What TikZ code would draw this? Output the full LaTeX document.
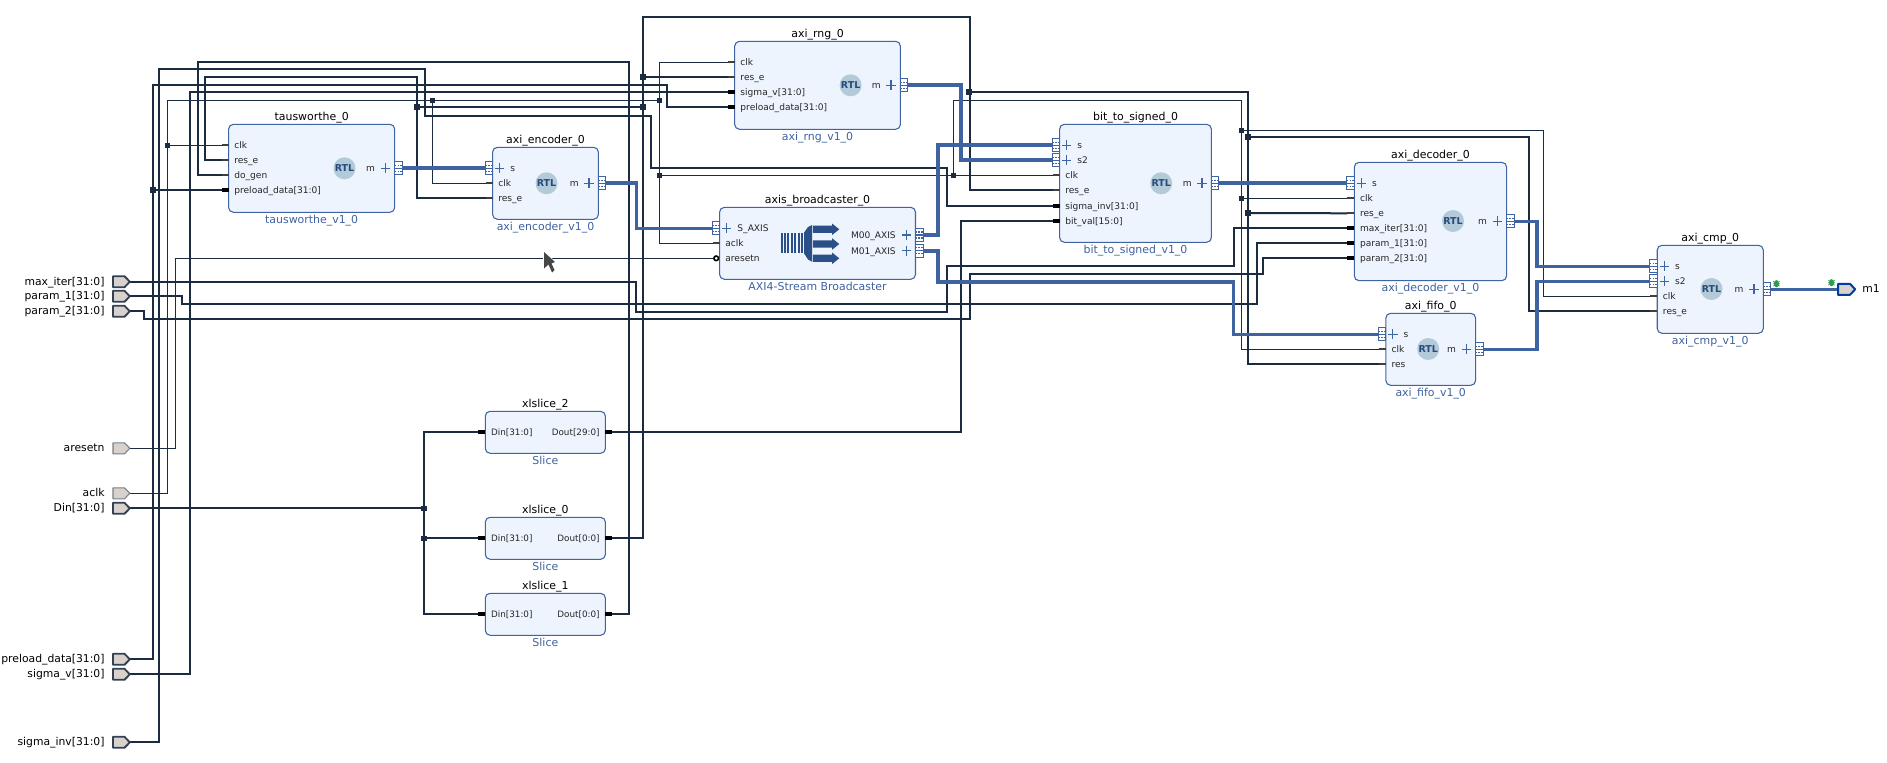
\documentclass[tikz,border=0pt]{standalone}
\usepackage{fontspec}
\setmainfont{DejaVu Sans}
\definecolor{wirec}{HTML}{1B2C40}
\definecolor{busblue}{HTML}{3F62A0}
\definecolor{boxfill}{HTML}{EDF4FD}
\definecolor{boxline}{HTML}{3F64A3}
\definecolor{portfill}{HTML}{D9D1CB}
\definecolor{rtlc}{HTML}{B3CAD8}
\definecolor{rtlt}{HTML}{274A7C}
\definecolor{iconc}{HTML}{2B4F87}
\definecolor{bugc}{HTML}{2E9A4E}
\pgfdeclarelayer{wires}
\pgfsetlayers{wires,main}
\tikzset{
  ipbox/.style={draw=boxline,fill=boxfill,line width=0.8pt,rounded corners=3.6pt,inner sep=0pt,outer sep=0pt},
  titlelab/.style={font=\fontsize{8.2}{10}\selectfont,text=black,inner sep=0pt,text height=6.2pt,text depth=1.8pt},
  sublab/.style={font=\fontsize{8.2}{10}\selectfont,text=busblue,inner sep=0pt,text height=6.2pt,text depth=1.8pt},
  pinlab/.style={font=\fontsize{6.8}{9}\selectfont,text=black!85,inner sep=0pt,text height=5.4pt,text depth=1.6pt},
  slicelab/.style={font=\fontsize{6.6}{9}\selectfont,text=black!85,inner sep=0pt,text height=5pt,text depth=1.5pt},
  extlab/.style={font=\fontsize{8.1}{10}\selectfont,text=black,inner sep=0pt,text height=6.2pt,text depth=1.8pt},
  thinw/.style={draw=wirec,line width=0.85pt},
  thickw/.style={draw=wirec,line width=1.5pt},
  busw/.style={draw=busblue,line width=2.7pt},
  junc/.style={rectangle,fill=wirec,inner sep=0pt,minimum size=4.5pt},
  juncs/.style={rectangle,fill=wirec,inner sep=0pt,minimum size=3.8pt},
  rtlicon/.style={circle,fill=rtlc,inner sep=0pt,minimum size=16.5pt,font=\fontsize{7.1}{8}\bfseries\selectfont,text=rtlt},
}
\newcommand\ipblock[7]{%
  \node[ipbox,minimum width={(#4-#2)*0.75pt},minimum height={(#5-#3)*0.75pt}] (#1) at ({(#2+#4)/2},{(#3+#5)/2}) {};
  \node[titlelab] (#1-title) at ({(#2+#4)/2},#3-7) {#6};
  \node[sublab] (#1-sub) at ({(#2+#4)/2},#5+8.2) {#7};
}
\newcommand\rtl[3]{\node[rtlicon] (#1) at (#2,#3) {RTL};}
\newcommand\thinpin[4]{%
  \coordinate (#1) at (#2-7,#3);
  \draw[line width=1.5pt,draw=black!75] (#1) -- (#2,#3);
  \node[pinlab,anchor=west] (#1-l) at (#2+5.5,#3+1) {#4};
}
\newcommand\buspin[4]{%
  \coordinate (#1) at (#2-7,#3);
  \draw[line width=3pt,draw=black] (#1) -- (#2,#3);
  \node[pinlab,anchor=west] (#1-l) at (#2+5.5,#3+1) {#4};
}
\newcommand\sliceout[4]{%
  \coordinate (#1) at (#2+7,#3);
  \draw[line width=3pt,draw=black] (#1) -- (#2,#3);
  \node[slicelab,anchor=east] (#1-l) at (#2-5.5,#3+1) {#4};
}
\newcommand\slicein[4]{%
  \coordinate (#1) at (#2-7,#3);
  \draw[line width=3pt,draw=black] (#1) -- (#2,#3);
  \node[slicelab,anchor=west] (#1-l) at (#2+5.5,#3+1) {#4};
}
\newcommand\ifsym[2]{%
  \draw[draw=boxline,fill=white,line width=0.7pt] (#1,#2-6.5) rectangle (#1+7.5,#2+6.5);
  \draw[draw=boxline,line width=0.8pt] (#1,#2) -- (#1+7.5,#2);
  \draw[draw=boxline,line width=0.8pt,dash pattern=on 1.2pt off 0.9pt] (#1,#2-3) -- (#1+7.5,#2-3);
  \draw[draw=boxline,line width=0.8pt,dash pattern=on 1.2pt off 0.9pt] (#1,#2+3) -- (#1+7.5,#2+3);
}
\newcommand\plussym[2]{%
  \draw[draw=boxline,line width=1pt] (#1-4.7,#2) -- (#1+4.7,#2) (#1,#2-5) -- (#1,#2+5);
}
\newcommand\ifin[4]{%
  \coordinate (#1) at (#2-7.5,#3);
  \ifsym{#2-7.5}{#3}
  \plussym{#2+7}{#3}
  \node[pinlab,anchor=west] (#1-l) at (#2+17.6,#3+1) {#4};
}
\newcommand\ifout[4]{%
  \coordinate (#1) at (#2+7.5,#3);
  \ifsym{#2}{#3}
  \plussym{#2-9.3}{#3}
  \node[pinlab,anchor=east] (#1-l) at (#2-19.5,#3+1) {#4};
}
\newcommand\extport[4]{% id, y, label, style
  \coordinate (#1) at (129.8,#2);
  \draw[#4,fill=portfill,line join=round] (113,#2-5.5) -- (124.5,#2-5.5) -- (129.8,#2) -- (124.5,#2+5.5) -- (113,#2+5.5) -- cycle;
  \node[extlab,anchor=east] (#1-l) at (104.8,#2+0.5) {#3};
}
\newcommand\bug[2]{%
  \draw[draw=bugc,line width=0.45pt] (#1-3.2,#2-2.5) -- (#1+3.2,#2+2.5) (#1+3.2,#2-2.5) -- (#1-3.2,#2+2.5) (#1-3.4,#2) -- (#1+3.4,#2);
  \fill[bugc] (#1,#2) ellipse [x radius=2.5,y radius=3.6];
}
\begin{document}
\begin{tikzpicture}[x=0.75pt,y=-0.75pt]
\useasboundingbox (0,0) rectangle (1887,763);

% ---------- external ports
\extport{p_max}{281.7}{max\_iter[31:0]}{draw=wirec!90,line width=1.4pt}
\extport{p_p1}{296.3}{param\_1[31:0]}{draw=wirec!90,line width=1.4pt}
\extport{p_p2}{311.3}{param\_2[31:0]}{draw=wirec!90,line width=1.4pt}
\extport{p_aresetn}{448.3}{aresetn}{draw=wirec!60,line width=0.8pt}
\extport{p_aclk}{493.3}{aclk}{draw=wirec!60,line width=0.8pt}
\extport{p_din}{508.3}{Din[31:0]}{draw=wirec!90,line width=1.4pt}
\extport{p_preload}{659.3}{preload\_data[31:0]}{draw=wirec!90,line width=1.4pt}
\extport{p_sigv}{674.3}{sigma\_v[31:0]}{draw=wirec!90,line width=1.4pt}
\extport{p_siginv}{742.3}{sigma\_inv[31:0]}{draw=wirec!90,line width=1.4pt}

% ---------- blocks
\ipblock{tau}{228.6}{124.3}{394.7}{212.3}{tausworthe\_0}{tausworthe\_v1\_0}
\rtl{tau-rtl}{344.5}{168.3}
\thinpin{tau_clk}{228.6}{145.3}{clk}
\thinpin{tau_res}{228.6}{160.3}{res\_e}
\thinpin{tau_dogen}{228.6}{175.3}{do\_gen}
\buspin{tau_preload}{228.6}{190.3}{preload\_data[31:0]}
\ifout{tau_m}{394.7}{168.3}{m}

\ipblock{enc}{492.6}{147.3}{598.4}{219.3}{axi\_encoder\_0}{axi\_encoder\_v1\_0}
\rtl{enc-rtl}{546.5}{183.3}
\ifin{enc_s}{492.6}{168.3}{s}
\thinpin{enc_clk}{492.6}{183.3}{clk}
\thinpin{enc_res}{492.6}{198.3}{res\_e}
\ifout{enc_m}{598.4}{183.3}{m}

\ipblock{rng}{734.7}{41.3}{900.4}{129.3}{axi\_rng\_0}{axi\_rng\_v1\_0}
\rtl{rng-rtl}{850.6}{85.3}
\thinpin{rng_clk}{734.7}{62.3}{clk}
\thinpin{rng_res}{734.7}{77.3}{res\_e}
\buspin{rng_sig}{734.7}{92.3}{sigma\_v[31:0]}
\buspin{rng_preload}{734.7}{107.3}{preload\_data[31:0]}
\ifout{rng_m}{900.4}{85.3}{m}

\ipblock{bro}{719.6}{207.3}{915.5}{279.3}{axis\_broadcaster\_0}{AXI4-Stream Broadcaster}
\ifin{bro_s}{719.6}{228.3}{S\_AXIS}
\thinpin{bro_aclk}{719.6}{243.3}{aclk}
\coordinate (bro_rst) at (714,258.3);
\draw[draw=black,fill=white,line width=1.2pt] (716.2,258.3) circle [radius=2.3];
\node[pinlab,anchor=west] (bro_rst-l) at (725.1,259.3) {aresetn};
\ifout{bro_m0}{915.5}{235}{M00\_AXIS}
\ifout{bro_m1}{915.5}{250.7}{M01\_AXIS}
% broadcaster icon
\foreach \bx in {781.5,784.9,788.3,791.7,795.1,798.5,801.9}
  \fill[iconc] (\bx-1,232.7) rectangle (\bx+1,253.3);
\fill[iconc] (804,232.7) -- (808,227) -- (812,225) -- (812,261.7) -- (808,259.5) -- (804,253.3) -- cycle;
\foreach \ay in {229.3,244,258.3}
  \fill[iconc] (812.8,\ay-3.6) -- (832,\ay-3.6) -- (832,\ay-5.8) -- (839.3,\ay) -- (832,\ay+5.8) -- (832,\ay+3.6) -- (812.8,\ay+3.6) -- cycle;

\ipblock{bit}{1059.6}{124.3}{1211.4}{242.3}{bit\_to\_signed\_0}{bit\_to\_signed\_v1\_0}
\rtl{bit-rtl}{1161.2}{183.3}
\ifin{bit_s}{1059.6}{145.3}{s}
\ifin{bit_s2}{1059.6}{160.3}{s2}
\thinpin{bit_clk}{1059.6}{175.3}{clk}
\thinpin{bit_res}{1059.6}{190.3}{res\_e}
\buspin{bit_inv}{1059.6}{205.8}{sigma\_inv[31:0]}
\buspin{bit_val}{1059.6}{220.8}{bit\_val[15:0]}
\ifout{bit_m}{1211.4}{183.3}{m}

\ipblock{dec}{1354.3}{162.3}{1506.6}{280.7}{axi\_decoder\_0}{axi\_decoder\_v1\_0}
\rtl{dec-rtl}{1453}{221}
\ifin{dec_s}{1354.3}{183.3}{s}
\thinpin{dec_clk}{1354.3}{198.3}{clk}
\thinpin{dec_res}{1354.3}{213.3}{res\_e}
\buspin{dec_max}{1354.3}{228.3}{max\_iter[31:0]}
\buspin{dec_p1}{1354.3}{243.3}{param\_1[31:0]}
\buspin{dec_p2}{1354.3}{258.3}{param\_2[31:0]}
\ifout{dec_m}{1506.6}{221.3}{m}

\ipblock{fifo}{1385.8}{313.3}{1475.6}{385.3}{axi\_fifo\_0}{axi\_fifo\_v1\_0}
\rtl{fifo-rtl}{1428.2}{349}
\ifin{fifo_s}{1385.8}{334.3}{s}
\thinpin{fifo_clk}{1385.8}{349.3}{clk}
\thinpin{fifo_res}{1385.8}{364.3}{res}
\ifout{fifo_m}{1475.6}{349.3}{m}

\ipblock{cmp}{1657.2}{245.3}{1763.3}{333.3}{axi\_cmp\_0}{axi\_cmp\_v1\_0}
\rtl{cmp-rtl}{1711.5}{289}
\ifin{cmp_s}{1657.2}{266.3}{s}
\ifin{cmp_s2}{1657.2}{281.3}{s2}
\thinpin{cmp_clk}{1657.2}{296.3}{clk}
\thinpin{cmp_res}{1657.2}{311.3}{res\_e}
\ifout{cmp_m}{1763.3}{289.3}{m}

\ipblock{sl2}{485.3}{411.3}{605.4}{453.3}{xlslice\_2}{Slice}
\slicein{sl2_in}{485.3}{432.3}{Din[31:0]}
\sliceout{sl2_out}{605.4}{432.3}{Dout[29:0]}
\ipblock{sl0}{485.3}{517.3}{605.4}{559.3}{xlslice\_0}{Slice}
\slicein{sl0_in}{485.3}{538.3}{Din[31:0]}
\sliceout{sl0_out}{605.4}{538.3}{Dout[0:0]}
\ipblock{sl1}{485.3}{593.3}{605.4}{635.3}{xlslice\_1}{Slice}
\slicein{sl1_in}{485.3}{614.3}{Din[31:0]}
\sliceout{sl1_out}{605.4}{614.3}{Dout[0:0]}

% output port
\coordinate (p_m1) at (1837.6,289.3);
\draw[draw=black!20!teal!60!blue,line width=1.5pt,fill=portfill,line join=round] (1838,283.8) -- (1850,283.8) -- (1855.2,289.3) -- (1850,294.8) -- (1838,294.8) -- cycle;
\node[extlab,anchor=west] (p_m1-l) at (1862,289.8) {m1};
\bug{1776.4}{283.7}
\bug{1831.5}{282.7}

% cursor
\fill[white] (543,250) -- (543,271) -- (548.5,266.5) -- (552.5,275) -- (556,271) -- (552.5,265) -- (557,263) -- cycle;
\fill[black!72] (544,252) -- (544,268.5) -- (548.5,264.5) -- (552,272.5) -- (554.5,270) -- (551.5,263.5) -- (555,262) -- cycle;

% junctions
\node[juncs] (j1) at (167.3,145.3) {};
\node[juncs] (j2) at (432.2,100.3) {};
\node[juncs] (j3) at (659.6,100.3) {};
\node[juncs] (j4) at (659.6,175.3) {};
\node[juncs] (j5) at (953.5,175.3) {};
\node[juncs] (j6) at (1241.6,130.3) {};
\node[juncs] (j7) at (1241.6,198.3) {};
\node[junc] (k1) at (152.5,190.3) {};
\node[junc] (k2) at (416.7,107.3) {};
\node[junc] (k3) at (643.3,77.3) {};
\node[junc] (k4) at (643.3,107.3) {};
\node[junc] (k5) at (969.3,91.7) {};
\node[junc] (k6) at (1248,137) {};
\node[junc] (k7) at (1248,213) {};
\node[juncs] (d1) at (424,508.3) {};
\node[juncs] (d2) at (424,538.3) {};

% ---------- wires
\begin{pgfonlayer}{wires}
\fill[white] (0,0) rectangle (1887,763);
\draw[thinw] (p_aclk) -- (167.3,493.3) -- (167.3,100.3) -- (j3.center);
\draw[thinw] (j1.center) -- (tau_clk);
\draw[thinw] (j2.center) |- (enc_clk);
\draw[thinw] (rng_clk) -| (j3.center) -- (j4.center);
\draw[thinw] (bro_aclk) -| (j4.center) -- (bit_clk);
\draw[thinw] (j5.center) -- (953.5,100.3) -- (1241.6,100.3) -- (1241.6,349.3) -- (fifo_clk);
\draw[thinw] (j6.center) -- (1543.3,130.3) |- (cmp_clk);
\draw[thinw] (j7.center) -- (dec_clk);
\draw[thinw] (p_aresetn) -- (175.4,448.3) -- (175.4,258.3) -- (bro_rst);

\draw[thickw] (p_preload) -- (152.5,659.3) -- (152.5,85.3) -- (666.5,85.3) -- (666.5,107.3) -- (rng_preload);
\draw[thickw] (k1.center) -- (tau_preload);
\draw[thickw] (p_sigv) -- (190.4,674.3) |- (rng_sig);
\draw[thickw] (p_siginv) -- (159.3,742.3) -- (159.3,69.3) -- (424.5,69.3) -- (424.5,115.7) -- (651.4,115.7) -- (651.4,168.3) -- (946.5,168.3) |- (bit_inv);
\draw[thickw] (tau_dogen) -- (197.6,175.3) -- (197.6,62) -- (628.6,62) |- (sl1_out);
\draw[thickw] (sl0_out) -- (643.3,538.3) -- (643.3,17.3) -- (969.5,17.3) |- (bit_res);
\draw[thickw] (k3.center) -- (rng_res);
\draw[thickw] (k4.center) -- (k2.center);
\draw[thickw] (tau_res) -- (205.3,160.3) -- (205.3,77.3) -- (416.7,77.3) |- (enc_res);
\draw[thickw] (k5.center) -- (1248.2,91.7) |- (fifo_res);
\draw[thickw] (k6.center) -- (1528.6,137) |- (cmp_res);
\draw[thickw] (k7.center) -- (dec_res);
\draw[thickw] (p_max) -- (636.3,281.7) -- (636.3,311.7) -- (946.5,311.7) -- (946.5,266.3) -- (1233.5,266.3) |- (dec_max);
\draw[thickw] (p_p1) -- (182.4,296.3) -- (182.4,304) -- (1256.5,304) |- (dec_p1);
\draw[thickw] (p_p2) -- (144,311.3) -- (144,319.3) -- (969.8,319.3) -- (969.8,274.3) -- (1263.3,274.3) |- (dec_p2);
\draw[thickw] (p_din) -- (d1.center);
\draw[thickw] (sl2_in) -| (d1.center) -- (d2.center) |- (sl1_in);
\draw[thickw] (d2.center) -- (sl0_in);
\draw[thickw] (sl2_out) -- (961.2,432.3) |- (bit_val);

\draw[busw] (tau_m) -- (enc_s);
\draw[busw] (enc_m) -- (636.3,183.3) |- (bro_s);
\draw[busw] (rng_m) -- (961.2,85.3) |- (bit_s2);
\draw[busw] (bro_m0) -- (938,235) |- (bit_s);
\draw[busw] (bro_m1) -- (938,250.7) -- (938,281.7) -- (1233.5,281.7) |- (fifo_s);
\draw[busw] (bit_m) -- (dec_s);
\draw[busw] (dec_m) -- (1536.8,221.3) |- (cmp_s);
\draw[busw] (fifo_m) -- (1536.8,349.3) |- (cmp_s2);
\draw[busw] (cmp_m) -- (p_m1);
\end{pgfonlayer}
\end{tikzpicture}
\end{document}
